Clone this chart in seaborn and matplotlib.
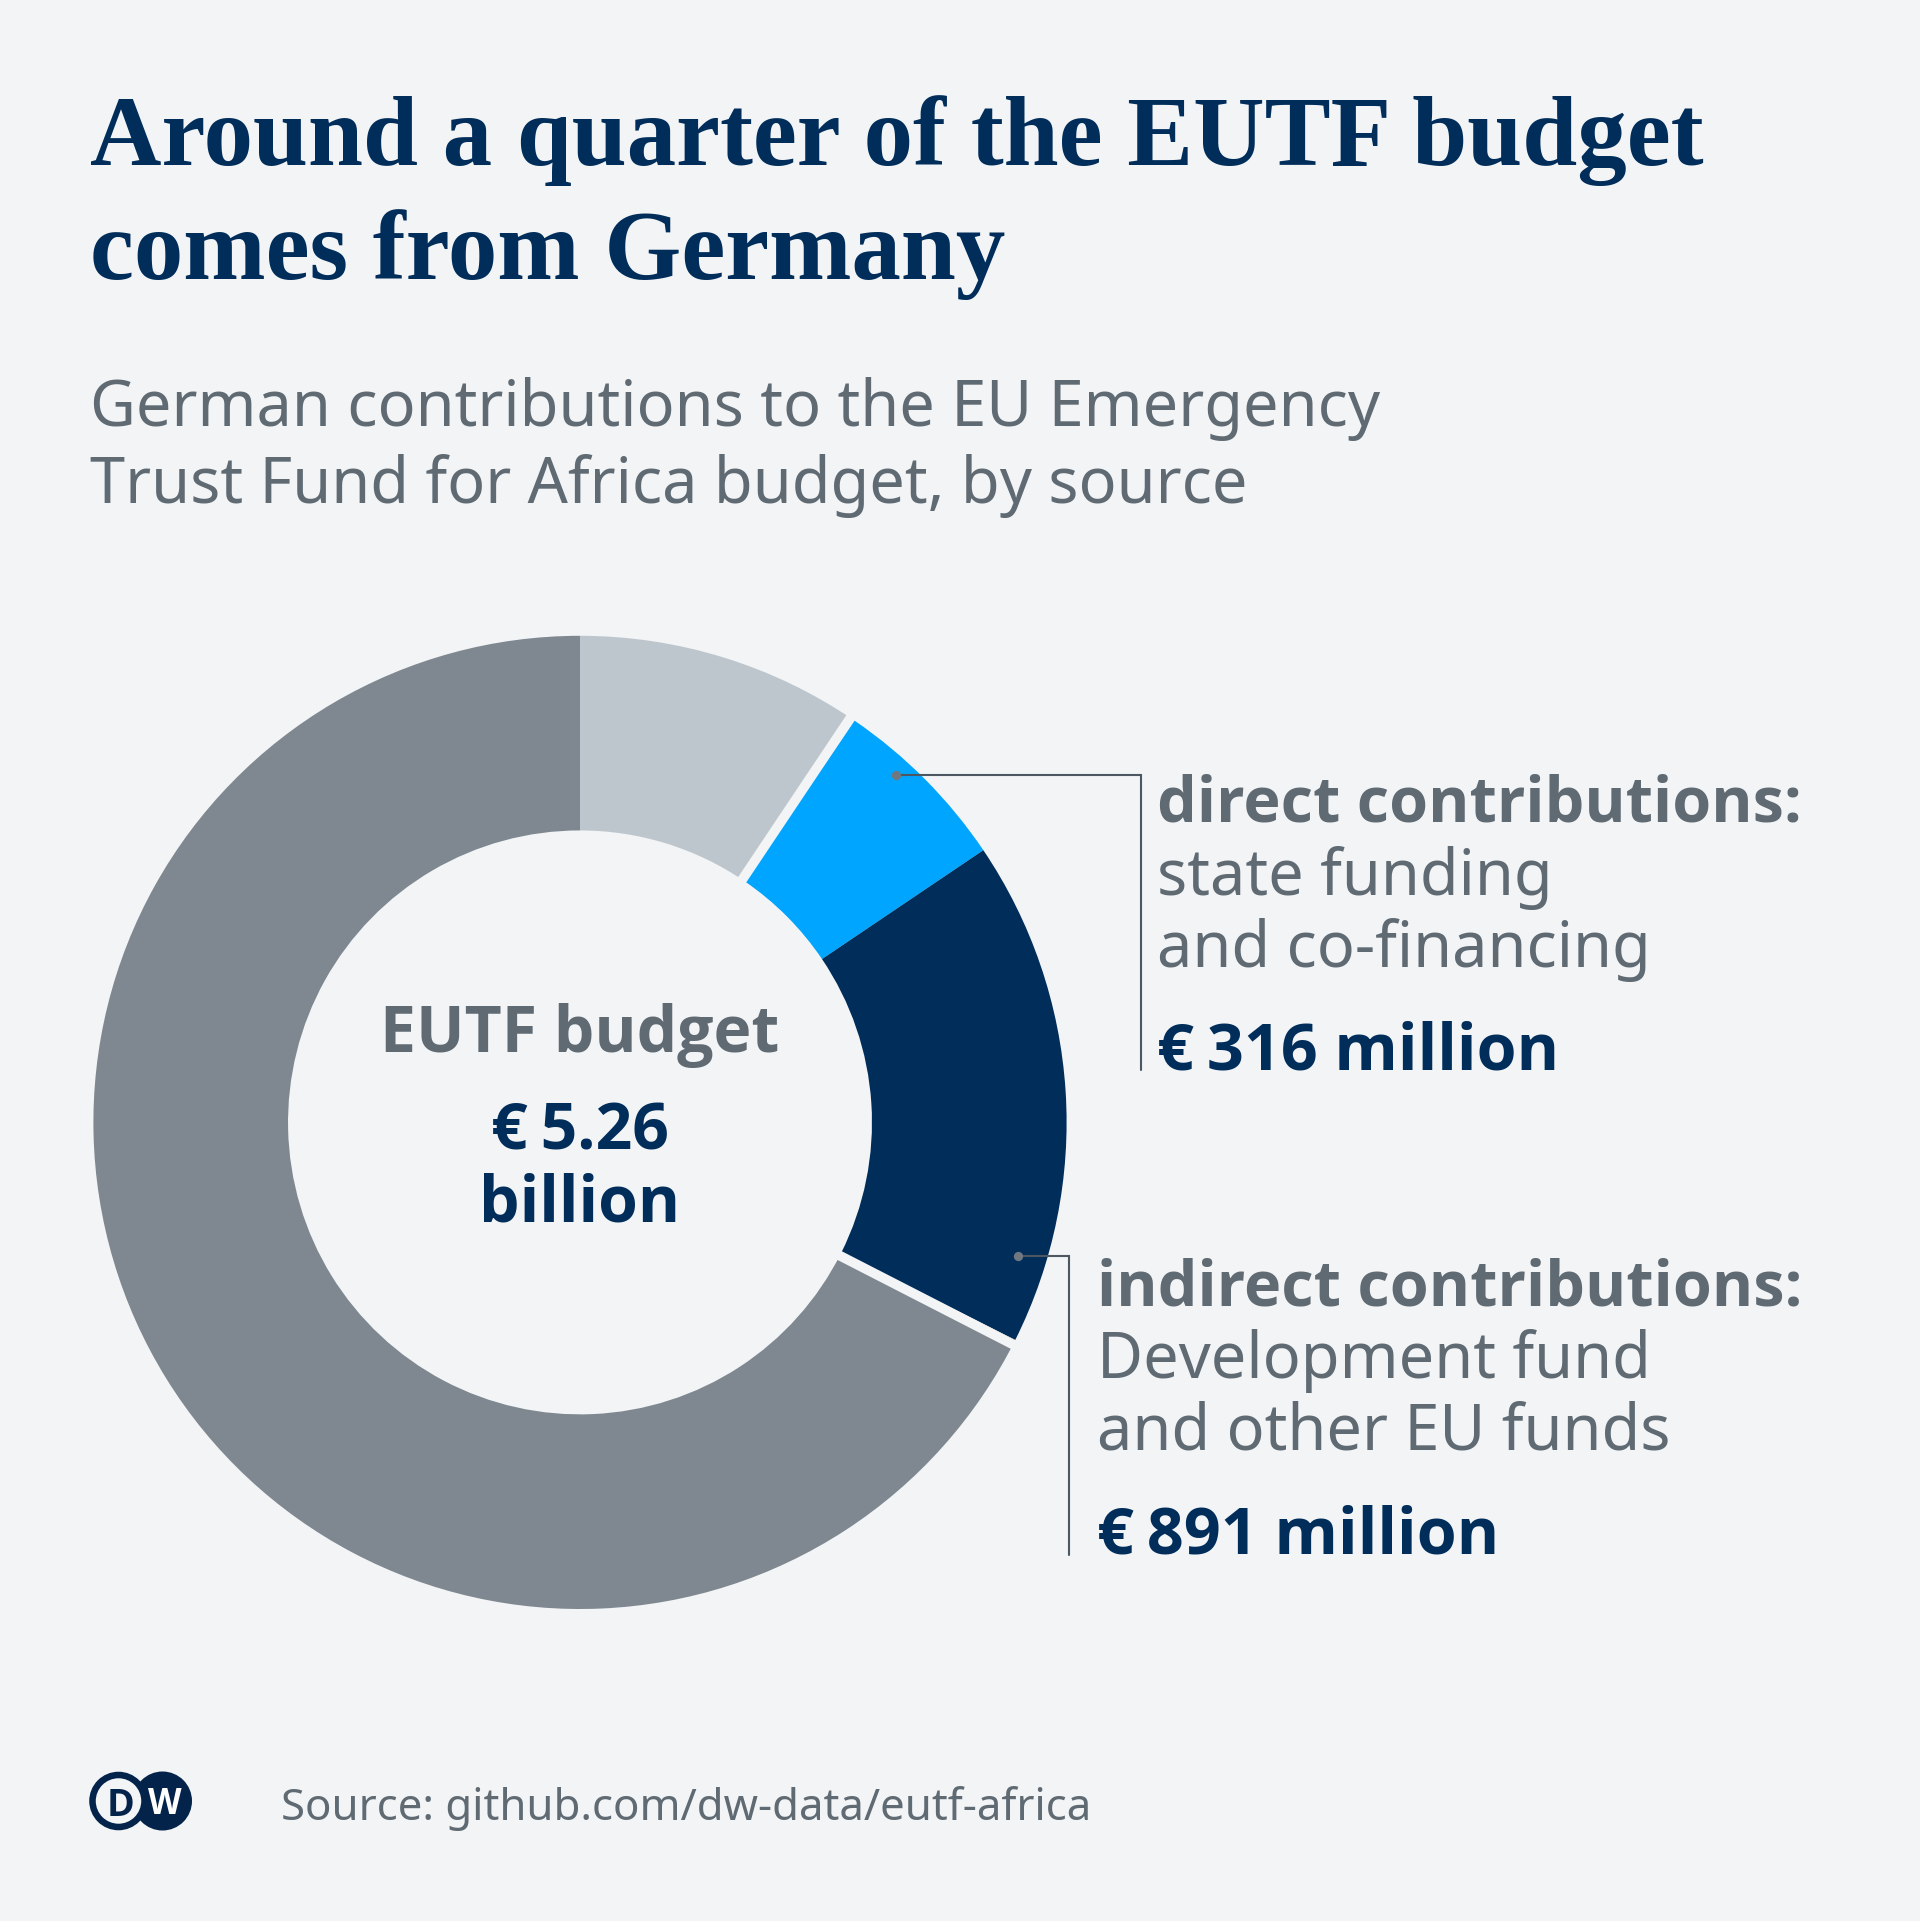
import numpy as np
import matplotlib.pyplot as plt
from matplotlib.patches import Circle
import seaborn as sns

# Budget split in million euros, clockwise from the top
segments = ["other top", "direct", "indirect", "rest"]
amounts = [502, 316, 885, 3557]
gap_after = ["other top", "indirect"]

title_lines = ["Around a quarter of the EUTF budget", "comes from Germany"]
subtitle_lines = ["German contributions to the EU Emergency", "Trust Fund for Africa budget, by source"]
source = "Source: github.com/dw-data/eutf-africa"

BG = "#f2f4f6"
NAVY = "#002d5a"
GREY_TEXT = "#5f6a73"
LINE = "#4c5762"
palette = sns.color_palette(["#bec6cd", "#00a5ff", NAVY, "#7f8890"])

sns.set_theme(style="white", rc={"figure.facecolor": BG, "axes.facecolor": "none"})
plt.rcParams["font.family"] = ["Noto Sans", "DejaVu Sans"]
BOLD = ["Open Sans", "DejaVu Sans"]

W, H = 1920, 1921
fig = plt.figure(figsize=(W / 100, H / 100), dpi=100)

# overlay in pixel coordinates for the text and leader lines
ax_txt = fig.add_axes([0, 0, 1, 1], zorder=2)
ax_txt.set_xlim(0, W)
ax_txt.set_ylim(H, 0)
ax_txt.axis("off")

# donut
cx, cy, r = 580, 1122.4, 486.6
ax = fig.add_axes([(cx - r) / W, 1 - (cy + r) / H, 2 * r / W, 2 * r / H], zorder=1)
ax.pie(amounts, colors=palette, startangle=90, counterclock=False, radius=1,
       wedgeprops=dict(width=0.4, linewidth=0))
ax.set_xlim(-1, 1)
ax.set_ylim(-1, 1)

# gaps sit just on the far side of the segment they follow
ends = np.cumsum(amounts) / sum(amounts) * 360
for name, end, shift in zip(segments, ends, [-0.6, 0, 0.6, 0]):
    if name in gap_after:
        a = np.deg2rad(90 - end - shift)
        rr = np.array([0.55, 1.03])
        ax.plot(rr * np.cos(a), rr * np.sin(a), color=BG, lw=7, solid_capstyle="butt", clip_on=False)


def put(x, y, s, size, color=GREY_TEXT, bold=False, ha="left", family=None):
    fam = family if family else (BOLD if bold else plt.rcParams["font.family"])
    ax_txt.text(x, y, s, fontsize=size, color=color, fontweight="bold" if bold else "normal",
                ha=ha, va="baseline", family=fam)


for y, s in zip([165, 279], title_lines):
    put(90, y, s, 71.2, NAVY, True, family=["Liberation Serif"])
for y, s in zip([426, 503], subtitle_lines):
    put(90, y, s, 45.4)

# centre label
put(580, 1052, "EUTF budget", 46.3, GREY_TEXT, True, "center")
put(580, 1150, "€\u20095.26", 46.3, NAVY, True, "center")
put(580, 1222, "billion", 46.3, NAVY, True, "center")

# direct contributions
ax_txt.plot([895.7, 1140.7, 1140.7], [775, 775, 1070], color=LINE, lw=1.5, solid_joinstyle="miter")
ax_txt.scatter([895.7], [775], s=45, color="#6f7880", linewidths=0, zorder=3)
put(1157, 822, "direct contributions:", 45.3, GREY_TEXT, True)
put(1157, 895, "state funding", 45.4)
put(1157, 967, "and co-financing", 45.4)
put(1157, 1070, "€\u2009316 million", 46.5, NAVY, True)

# indirect contributions
ax_txt.plot([1018, 1069, 1069], [1255.7, 1255.7, 1555], color=LINE, lw=1.5, solid_joinstyle="miter")
ax_txt.scatter([1018], [1255.7], s=45, color="#6f7880", linewidths=0, zorder=3)
put(1097, 1306, "indirect contributions:", 45.3, GREY_TEXT, True)
put(1097, 1378, "Development fund", 45.4)
put(1097, 1450, "and other EU funds", 45.4)
put(1097, 1554, "€\u2009891 million", 46.5, NAVY, True)

# DW logo
ax_txt.add_patch(Circle((162.5, 1801), 29.5, color="#03234b", lw=0))
ax_txt.add_patch(Circle((118.5, 1801), 26, facecolor=BG, edgecolor="#03234b", lw=4.7))
ax_txt.text(120, 1801, "D", fontsize=27, color="#03234b", fontweight="bold", ha="center", va="center_baseline", family=BOLD)
ax_txt.text(165, 1801, "W", fontsize=25, color="white", fontweight="bold", ha="center", va="center_baseline", family=BOLD)

put(281, 1820, source, 31.5)

fig.savefig("out.png", dpi=100, facecolor=BG)
